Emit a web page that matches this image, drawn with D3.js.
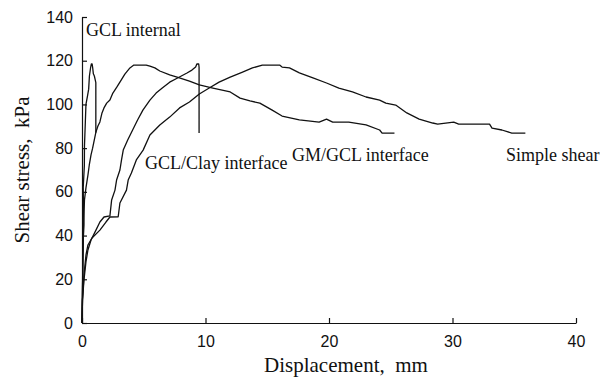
<!DOCTYPE html>
<html><head><meta charset="utf-8">
<script src="https://cdn.jsdelivr.net/npm/d3@7"></script>
<style>
html,body{margin:0;padding:0;background:#fff;}
svg{display:block;}
</style></head>
<body>
<svg id="chart" width="609" height="381"></svg>
<script>
// ---- data (displacement mm, shear stress kPa) ----
const gclInternalX = [0,0.03,0.06,0.1,0.15,0.12,0.1,0.19,0.2,0.27,0.32,0.45,0.54,0.6,0.7,0.76,0.82,0.86,0.92,1.0,1.08,1.12,1.12];
const gclInternalY = [0,12,25,38,45,52,62,72,81,92,100,104,107,113,117,118.5,118.5,117,114,113,111,110,87];

const gclClayX = [0,0.04,0.16,0.32,0.48,0.73,1.13,1.45,1.78,2.26,2.4,2.67,2.8,3.07,3.2,3.34,3.7,4.1,4.5,4.93,5.5,6.0,6.5,7.1,7.7,8.5,8.9,9.2,9.3,9.45,9.48,9.48];
const gclClayY = [0,10.5,19.7,27.9,33.4,38,42.5,46.2,48.5,49,56.3,60.8,65.4,70,74.6,79.1,83.7,88.3,92.9,97.4,102,105.2,107.5,110.2,112,114.4,115.7,117.1,118.5,118.5,117,86.9];

const gmGclX = [0,0.04,0.08,0.12,0.2,0.32,0.48,0.59,0.73,0.86,1.13,1.29,1.45,1.62,1.78,2.0,2.26,2.5,2.83,3.07,3.47,3.88,4.2,5.2,5.5,5.9,6.3,7.1,7.7,8.7,9.5,10.6,12.0,12.8,13.6,14.4,15.4,16.2,17.6,19.2,19.8,20.3,21.6,23.0,24.1,24.3,25.3];
const gmGclY = [0,15,28.8,42.5,56.3,61.8,67.7,72.3,76.9,80,87.4,90.1,92,96.1,98.4,100.6,102,105.2,108,110.2,113.9,116.7,118,118,117.5,116.7,115.3,113.5,112.5,110.7,108.9,107.5,105.7,102.9,101.6,100.6,97.4,94.7,92.9,91.9,93.3,91.9,91.9,90.6,88.3,86.9,86.9];

const simpleX = [0,0.04,0.16,0.32,0.48,0.81,1.45,1.94,2.26,2.93,3.07,3.6,3.74,4.0,4.4,4.95,5.5,6.3,7.1,7.9,8.7,9.5,10.3,11.1,12.0,13.0,13.8,14.6,16.0,16.2,16.8,17.6,18.7,19.8,20.8,21.9,23.0,24.1,24.6,25.4,26.3,27.3,28.4,28.8,30.1,30.5,33.0,33.2,34.0,34.8,35.9];
const simpleY = [0,10.5,22,31,35.7,38.9,42.5,46.2,48.5,48.6,54.9,60.8,65.4,68.6,74.6,79.1,86,90.6,94.2,98.4,101.1,104.8,107.5,110.2,112.5,114.8,116.7,118,118,117.1,116.7,114.4,112.1,109.8,107.5,105.7,103.4,102,100.6,99.7,96.1,93.3,91.5,91,91.9,91,91,89.2,88.3,86.9,86.9];

const xTicks = [0,10,20,30,40];
const yTicks = [0,20,40,60,80,100,120,140];

const seriesLabels = ["GCL internal","GCL/Clay interface","GM/GCL interface","Simple shear"];
const xTitle = "Displacement,  mm";
const yTitle = "Shear stress,  kPa";

// ---- drawing ----
const svg = d3.select("#chart");
const x = d3.scaleLinear().domain([0,40]).range([82,576]);
const y = d3.scaleLinear().domain([0,140]).range([323,17]);

const serif = "'Liberation Serif','Times New Roman',serif";
const sans = "'Liberation Sans',Arial,Helvetica,sans-serif";

const xAxis = svg.append("g").attr("transform","translate(0,"+y(0)+")")
  .call(d3.axisBottom(x).tickValues(xTicks).tickSizeInner(-5).tickSizeOuter(0).tickPadding(13).tickFormat(d3.format("d")));
const yAxis = svg.append("g").attr("transform","translate("+x(0)+",0)")
  .call(d3.axisLeft(y).tickValues(yTicks).tickSizeInner(-5).tickSizeOuter(0).tickPadding(9).tickFormat(d3.format("d")));
[xAxis,yAxis].forEach(g=>{
  g.selectAll("path,line").attr("stroke","#111").attr("stroke-width",1.2);
  g.selectAll("text").attr("font-family",sans).attr("font-size",16).attr("fill","#111");
});

const series = [
  [gclInternalX,gclInternalY],
  [gclClayX,gclClayY],
  [gmGclX,gmGclY],
  [simpleX,simpleY]
];
const line = d3.line().x(d=>x(d[0])).y(d=>y(d[1]));
series.forEach(([xs,ys])=>{
  svg.append("path")
    .datum(xs.map((v,i)=>[v,ys[i]]))
    .attr("d",line)
    .attr("fill","none")
    .attr("stroke","#111")
    .attr("stroke-width",1.3)
    .attr("stroke-linejoin","round");
});

// annotations
const annPos = [[86,36],[145,169],[292,161],[506,161]];
seriesLabels.forEach((t,i)=>{
  svg.append("text").attr("x",annPos[i][0]).attr("y",annPos[i][1])
    .attr("font-family",serif).attr("font-size",18).attr("fill","#111").text(t);
});

svg.append("text").attr("x",346).attr("y",372).attr("text-anchor","middle")
  .attr("font-family",serif).attr("font-size",21).attr("fill","#111")
  .style("white-space","pre").text(xTitle);
svg.append("text").attr("transform","translate(29,170) rotate(-90)").attr("text-anchor","middle")
  .attr("font-family",serif).attr("font-size",21).attr("fill","#111")
  .style("white-space","pre").text(yTitle);
</script>
</body></html>
